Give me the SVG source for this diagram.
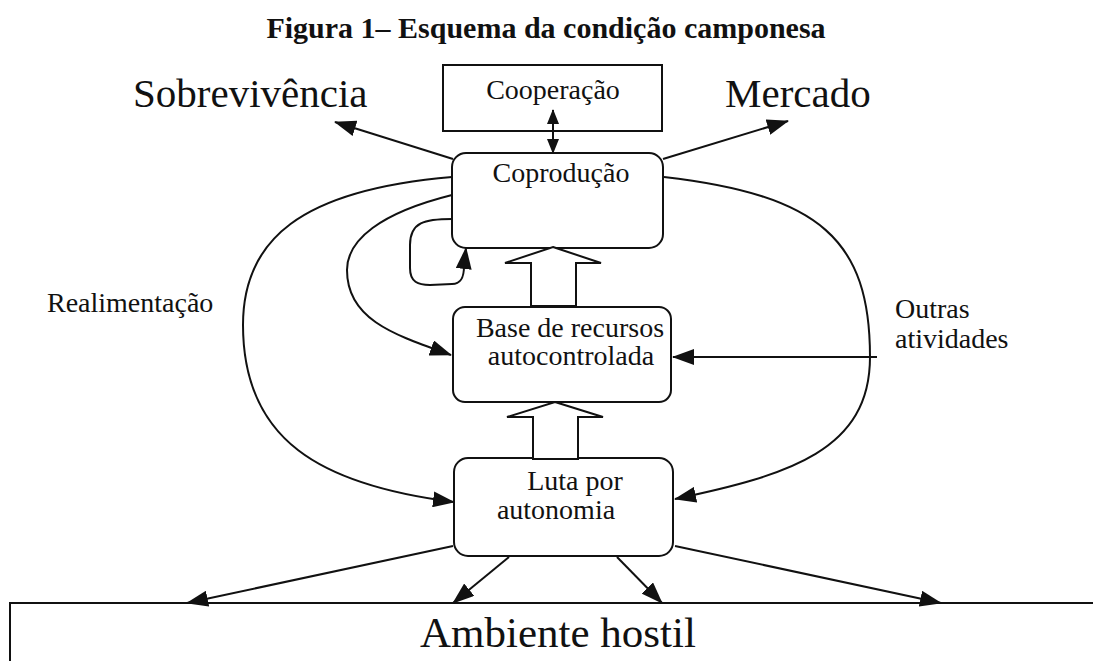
<svg xmlns="http://www.w3.org/2000/svg" width="1093" height="661" viewBox="0 0 1093 661">
<style>
.t{font-family:"Liberation Serif","Times New Roman",serif;fill:#111}
.n{font-size:28px}
.b{font-size:41px}
.box{fill:#fff;stroke:#111;stroke-width:2}
.c{fill:none;stroke:#111;stroke-width:2}
.blk{fill:#fff;stroke:#111;stroke-width:2;stroke-linejoin:miter}
</style>
<defs>
<marker id="ah" viewBox="0 0 22 16" refX="21" refY="8" markerWidth="22" markerHeight="16" orient="auto" markerUnits="userSpaceOnUse"><path d="M0,0 L22,8 L0,16 z" fill="#111"/></marker>
<marker id="sh" viewBox="0 0 15 12" refX="14" refY="6" markerWidth="15" markerHeight="12" orient="auto-start-reverse" markerUnits="userSpaceOnUse"><path d="M0,0 L15,6 L0,12 z" fill="#111"/></marker>
</defs>
<rect width="1093" height="661" fill="#fff"/>
<text class="t" x="546" y="38" text-anchor="middle" font-size="30" font-weight="bold">Figura 1– Esquema da condição camponesa</text>

<g id="cooperacao">
<rect class="box" x="443" y="65" width="219" height="66"/>
<text class="t n" x="553" y="99" text-anchor="middle">Cooperação</text>
</g>
<g id="coproducao">
<rect class="box" x="452" y="153" width="211" height="95" rx="14"/>
<text class="t n" x="561" y="182" text-anchor="middle">Coprodução</text>
</g>
<g id="base">
<rect class="box" x="453" y="307" width="218" height="95" rx="12"/>
<text class="t n" x="570" y="337" text-anchor="middle">Base de recursos</text>
<text class="t n" x="571" y="365" text-anchor="middle">autocontrolada</text>
</g>
<g id="luta">
<rect class="box" x="454" y="458" width="219" height="98" rx="14"/>
<text class="t n" x="575" y="490" text-anchor="middle">Luta por</text>
<text class="t n" x="556" y="519" text-anchor="middle">autonomia</text>
</g>
<g id="sobrevivencia"><text class="t b" x="133" y="107">Sobrevivência</text></g>
<g id="mercado"><text class="t b" x="725" y="107">Mercado</text></g>
<g id="realimentacao"><text class="t n" x="47" y="312">Realimentação</text></g>
<g id="outras"><text class="t n" x="895" y="318">Outras</text><text class="t n" x="895" y="348">atividades</text></g>
<g id="ambiente">
<path class="c" d="M10,661 L10,603 L1093,603"/>
<text class="t" x="558" y="647" text-anchor="middle" font-size="43">Ambiente hostil</text>
</g>

<g id="connectors">
<path class="c" d="M453,159 L335,122" marker-end="url(#ah)"/>
<path class="c" d="M663,159 L788,121" marker-end="url(#ah)"/>
<path class="c" d="M553,110 L553,153" marker-start="url(#sh)" marker-end="url(#sh)"/>
<path class="c" d="M664,177 C820,195 870,240 870,357 C870,450 790,475 675,499" marker-end="url(#ah)"/>
<path class="c" d="M877,357 L673,357" marker-end="url(#ah)"/>
<path class="c" d="M452,177 C300,190 243,240 243,325 C243,440 320,485 454,502" marker-end="url(#ah)"/>
<path class="c" d="M452,195 C380,213 347,240 347,270 C347,320 395,335 451,355" marker-end="url(#ah)"/>
<path class="c" d="M452,219 C425,219 410,222 410,245 L410,268 C410,282 418,285 430,285 L452,284 C462,284 464,276 464,266 L466,248" marker-end="url(#ah)"/>
<path class="c" d="M453,546 L187,603" marker-end="url(#ah)"/>
<path class="c" d="M509,557 L453,603" marker-end="url(#ah)"/>
<path class="c" d="M617,557 L662,603" marker-end="url(#ah)"/>
<path class="c" d="M675,546 L941,603" marker-end="url(#ah)"/>
<polygon class="blk" points="553,247 601,263 576,263 576,306 531,306 531,263 505,263"/>
<polygon class="blk" points="555,402 603,417 578,417 578,459 533,459 533,417 507,417"/>
</g>
</svg>
